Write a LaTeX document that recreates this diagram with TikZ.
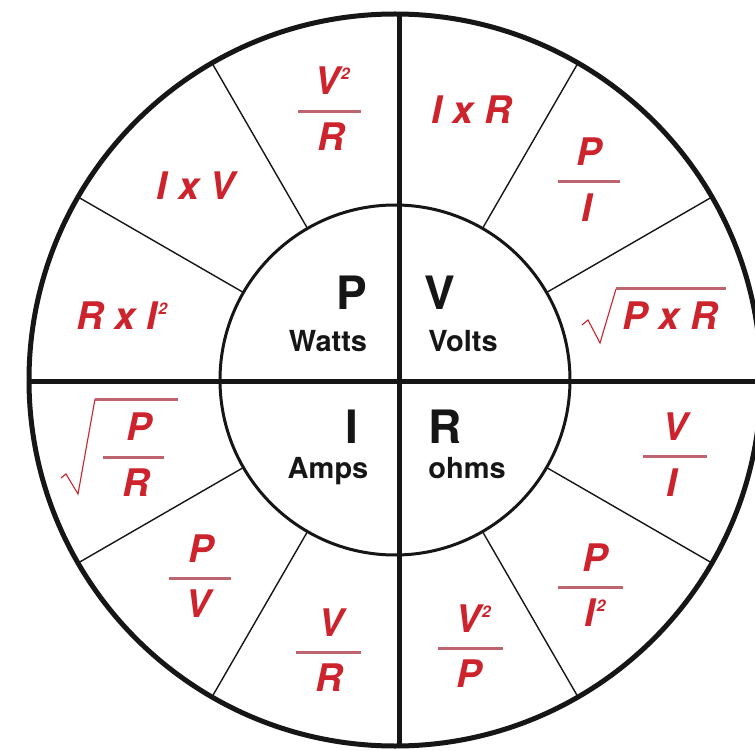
\documentclass[tikz,border=0pt]{standalone}
\usepackage{fontspec}
\setmainfont{TeX Gyre Heros}
\usetikzlibrary{calc}
\definecolor{fred}{RGB}{205,35,45}
\definecolor{fbar}{RGB}{190,100,110}
\definecolor{ink}{RGB}{22,22,22}
\newcommand{\sqq}{\kern1.5pt\raisebox{15pt}{\fontsize{16}{16}\selectfont 2}}
\tikzset{
  ftxt/.style={text=fred,font=\bfseries\itshape\fontsize{38}{38}\selectfont,inner sep=0pt,anchor=base},
  fbarl/.style={draw=fbar,line width=3pt},
  rootl/.style={draw=fred,line width=1.1pt,line join=miter},
  bigl/.style={text=ink,font=\bfseries\fontsize{46}{46}\selectfont,inner sep=0pt,anchor=base},
  unitl/.style={text=ink,font=\bfseries\fontsize{29}{29}\selectfont,inner sep=0pt,anchor=base},
}
\begin{document}
\begin{tikzpicture}[x=1pt,y=-1pt]
\useasboundingbox (0,0) rectangle (755,751);
\fill[white] (0,0) rectangle (755,751);
\coordinate (C) at (395,380);
% spokes
\foreach \a in {30,60,120,150,210,240,300,330}
  \draw[line width=1.4pt,ink] ($(C)+(\a:175)$) -- ($(C)+(\a:366)$);
% cross
\begin{scope}
  \clip (C) circle (366);
  \draw[line width=5pt,ink] (399,0) -- (399,751);
  \draw[line width=5pt,ink] (0,381) -- (755,381);
\end{scope}
\draw[line width=3pt,ink,fill=none] (C) circle (175);
\draw[line width=5pt,ink] (C) circle (366);
% centre labels
\node[bigl] (P) at (352,310) {P};
\node[bigl] (V) at (440,310) {V};
\node[bigl] (I) at (352,443) {I};
\node[bigl] (R) at (445,443) {R};
\node[unitl] (watts) at (328,352) {Watts};
\node[unitl] (volts) at (463,352) {Volts};
\node[unitl] (amps) at (328,478) {Amps};
\node[unitl] (ohms) at (467,478) {ohms};
% formulas
% V^2/R (top)
\node[ftxt] (f1n) at (332,95) {V\sqq};
\draw[fbarl] (298,112) -- (361,112);
\node[ftxt] (f1d) at (331,151) {R};
% I x R
\node[ftxt] (f2) at (472,124) {I x R};
% P/I
\node[ftxt] (f3n) at (589,166) {P};
\draw[fbarl] (558,182) -- (620,182);
\node[ftxt] (f3d) at (587,222) {I};
% sqrt(P x R)
\node[ftxt] (f4) at (670,330) {P x R};
\draw[rootl] (582,325) -- (588,320) -- (600,343) -- (616,289);
\draw[fbarl] (616,289) -- (726,289);
% I x V
\node[ftxt] (f5) at (196,200) {I x V};
% R x I^2
\node[ftxt] (f6) at (122,330) {R x I\sqq};
% sqrt(P/R)
\node[ftxt] (f7n) at (139,440) {P};
\draw[fbarl] (103,457) -- (164,457);
\node[ftxt] (f7d) at (136,496) {R};
\draw[rootl] (61,478) -- (66,474) -- (78,494) -- (95,399);
\draw[fbarl] (95,399) -- (178,399);
% P/V
\node[ftxt] (f8n) at (201,562) {P};
\draw[fbarl] (169,578) -- (231,578);
\node[ftxt] (f8d) at (198,617) {V};
% V/R (bottom left)
\node[ftxt] (f9n) at (331,636) {V};
\draw[fbarl] (296,652) -- (361,652);
\node[ftxt] (f9d) at (329,691) {R};
% V^2/P
\node[ftxt] (f10n) at (473,632) {V\sqq};
\draw[fbarl] (438,648) -- (503,648);
\node[ftxt] (f10d) at (469,687) {P};
% P/I^2
\node[ftxt] (f11n) at (595,571) {P};
\draw[fbarl] (558,587) -- (623,587);
\node[ftxt] (f11d) at (595,626) {I\sqq};
% V/I
\node[ftxt] (f12n) at (675,440) {V};
\draw[fbarl] (643,456) -- (707,456);
\node[ftxt] (f12d) at (672,496) {I};
\end{tikzpicture}
\end{document}
